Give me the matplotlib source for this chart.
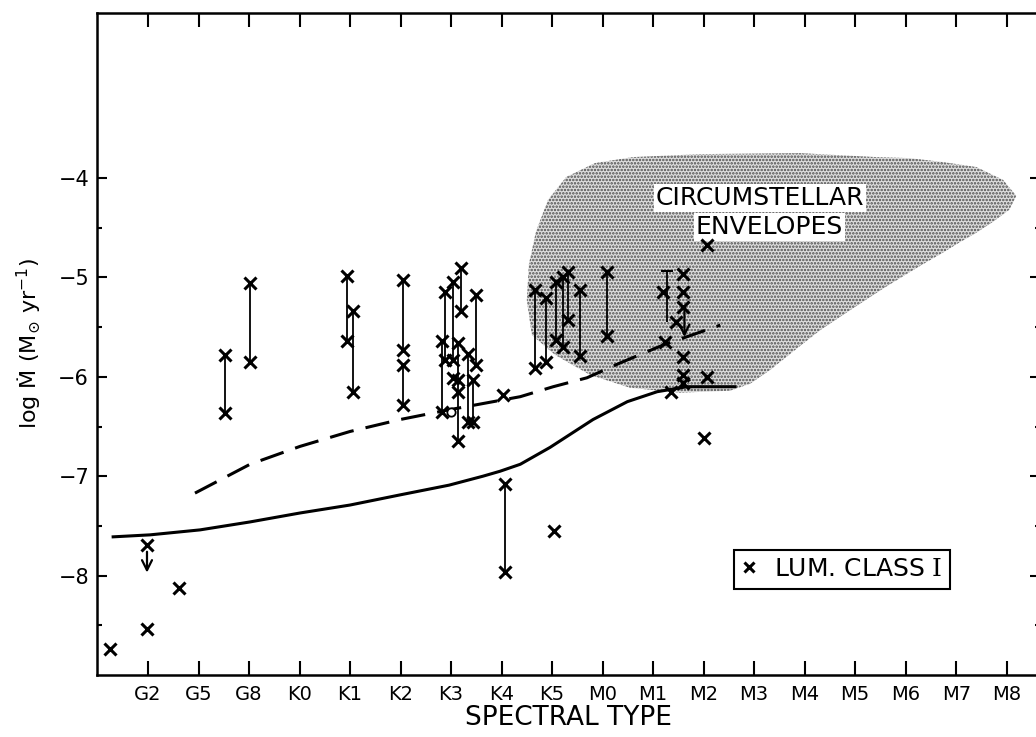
import numpy as np
import matplotlib.pyplot as plt

plt.rcParams['font.family'] = ['DejaVu Sans']
plt.rcParams['mathtext.fontset'] = 'custom'
plt.rcParams['mathtext.rm'] = 'DejaVu Serif'
plt.rcParams['mathtext.sf'] = 'DejaVu Sans'
plt.rcParams['hatch.linewidth'] = 1.2

# spectral type axis: G2 .. M8 at integer positions 1..18
spectral_types = ['G2', 'G5', 'G8', 'K0', 'K1', 'K2', 'K3', 'K4', 'K5',
                  'M0', 'M1', 'M2', 'M3', 'M4', 'M5', 'M6', 'M7', 'M8']
type_pos = np.arange(1, len(spectral_types) + 1)

# stars with a single mass-loss estimate
single_x = [0.25, 0.98, 0.98, 1.61, 8.03, 9.04, 12.07, 12.0, 12.07,
            11.24, 11.59, 11.59, 11.59, 11.36, 11.59, 11.59, 11.59,
            11.2, 11.45, 7.04, 7.14, 7.14]
single_y = [-8.74, -8.54, -7.69, -8.12, -6.18, -7.55, -4.67, -6.62, -6.0,
            -5.65, -5.80, -5.98, -6.06, -6.15, -4.97, -5.15, -5.30,
            -5.15, -5.45, -6.01, -6.03, -6.15]

# stars with a range of estimates (upper / lower value joined by a line)
pair_x = [2.53, 3.02, 4.94, 5.06, 6.05, 6.05,
          6.82, 6.88, 7.04, 7.20, 7.14, 7.34, 7.50, 7.44,
          8.07,
          8.66, 8.88, 9.08, 9.22, 9.32, 9.55, 10.09]
pair_top = [-5.78, -5.06, -4.99, -5.34, -5.03, -5.88,
            -5.64, -5.15, -5.05, -4.91, -5.66, -5.77, -5.18, -6.03,
            -7.08,
            -5.13, -5.21, -5.05, -5.00, -4.95, -5.13, -4.95]
pair_bot = [-6.36, -5.85, -5.64, -6.15, -5.73, -6.28,
            -6.35, -5.83, -5.83, -5.34, -6.65, -6.45, -5.88, -6.45,
            -7.96,
            -5.91, -5.85, -5.63, -5.70, -5.43, -5.79, -5.59]

# bar with a cap near M1
cap_x = 11.27
cap_top = -4.94
cap_bot = -5.45

# upper limits (start, end)
limit_x = [0.98, 11.62]
limit_from = [-7.76, -5.33]
limit_to = [-7.97, -5.60]

# theoretical relations
solid_x = [0.31, 1.04, 2.03, 3.02, 4.01, 5.0, 5.97, 6.96, 7.63, 7.97,
           8.37, 8.96, 9.81, 10.49, 11.08, 11.67, 12.62]
solid_y = [-7.61, -7.59, -7.54, -7.46, -7.37, -7.29, -7.19, -7.09, -7.0,
           -6.95, -6.88, -6.71, -6.43, -6.25, -6.15, -6.10, -6.10]

dash_x = [1.93, 3.02, 4.01, 5.0, 5.99, 6.98, 8.37, 9.02, 9.69, 10.35,
          11.2, 12.33]
dash_y = [-7.17, -6.88, -6.70, -6.55, -6.43, -6.33, -6.20, -6.10, -6.01,
          -5.86, -5.68, -5.48]

# region occupied by circumstellar envelope measurements
env_x = [8.50, 8.54, 8.68, 8.92, 9.28, 9.85, 10.60, 11.93, 13.91, 15.42,
         16.07, 16.74, 17.40, 17.93, 18.19, 18.05, 17.73, 17.40, 17.06,
         16.74, 16.40, 16.07, 15.50, 14.90, 14.31, 13.81, 13.32, 12.92,
         12.52, 11.53, 10.54, 9.75, 9.06, 8.60]
env_y = [-5.23, -4.87, -4.54, -4.22, -3.99, -3.85, -3.79, -3.76, -3.75,
         -3.79, -3.80, -3.84, -3.89, -4.02, -4.18, -4.32, -4.44, -4.55,
         -4.65, -4.75, -4.85, -4.95, -5.13, -5.33, -5.53, -5.73, -5.93,
         -6.07, -6.14, -6.16, -6.11, -5.98, -5.78, -5.58]

fig = plt.figure(figsize=(10.36, 7.37), dpi=100)
ax = fig.add_axes([0.0941, 0.0841, 0.9098, 0.8983])

ax.fill(env_x, env_y, facecolor='#dedede', edgecolor='#4c4c4c',
        hatch='.....', linewidth=0, zorder=1)
ax.text(13.12, -4.20, 'CIRCUMSTELLAR', ha='center', va='center',
        fontsize=18, zorder=2,
        bbox=dict(facecolor='white', edgecolor='none', pad=1.5))
ax.text(13.30, -4.49, 'ENVELOPES', ha='center', va='center',
        fontsize=18, zorder=2,
        bbox=dict(facecolor='white', edgecolor='none', pad=1.5))

ax.plot(solid_x, solid_y, color='k', lw=2.2, zorder=3)
ax.plot(dash_x, dash_y, color='k', lw=2.2, dashes=(8, 4), zorder=3)

ax.vlines(pair_x, pair_bot, pair_top, color='k', lw=1.3, zorder=4)
ax.vlines(cap_x, cap_bot, cap_top, color='k', lw=1.3, zorder=4)
ax.plot([cap_x], [cap_top], marker='_', color='k', ms=8, mew=1.5, zorder=4)

mk = dict(marker='x', ls='none', color='k', ms=9, mew=2.2, zorder=5)
ax.plot(pair_x, pair_top, **mk)
ax.plot(pair_x, pair_bot, **mk)
ax.plot(single_x, single_y, label=r'LUM. CLASS $\mathrm{I}$', **mk)
ax.plot([7.0], [-6.35], marker='o', ms=6, mfc='white', mec='k', mew=1.3,
        zorder=5)

for x, y0, y1 in zip(limit_x, limit_from, limit_to):
    ax.annotate('', xy=(x, y1), xytext=(x, y0),
                arrowprops=dict(arrowstyle='->', color='k', lw=1.6,
                                mutation_scale=18, shrinkA=0, shrinkB=0),
                zorder=5)

ax.set_xlim(0, 18.66)
ax.set_ylim(-9.0, -2.34)

ax.set_xticks(type_pos)
ax.set_xticklabels(spectral_types)
ax.set_yticks([-4, -5, -6, -7, -8])
ax.set_yticklabels(['\u22124', '\u22125', '\u22126', '\u22127', '\u22128'])
ax.set_yticks([-4.5, -5.5, -6.5, -7.5, -8.5], minor=True)

ax.tick_params(axis='x', which='major', direction='in', top=True,
               length=10, width=1.5, pad=7, labelsize=14)
ax.tick_params(axis='y', which='major', direction='in', right=True,
               length=7, width=1.5, pad=6, labelsize=15)
ax.tick_params(axis='y', which='minor', direction='in', right=True,
               length=3.6, width=1.5)

for s in ax.spines.values():
    s.set_linewidth(1.8)

ax.set_xlabel('SPECTRAL TYPE', fontsize=19, labelpad=1)
ax.set_ylabel(r'log Ṁ (M$_{\odot}$ yr$^{\mathsf{-1}}$)', fontsize=16,
              labelpad=10)

leg = ax.legend(loc='center', bbox_to_anchor=(0.790, 0.160), frameon=True,
                fancybox=False, edgecolor='k', fontsize=18, markerscale=0.75,
                handlelength=0.6, handletextpad=0.7, borderpad=0.3)
leg.get_frame().set_linewidth(1.5)
leg.get_frame().set_alpha(1)

fig.savefig('out.png', dpi=100)
